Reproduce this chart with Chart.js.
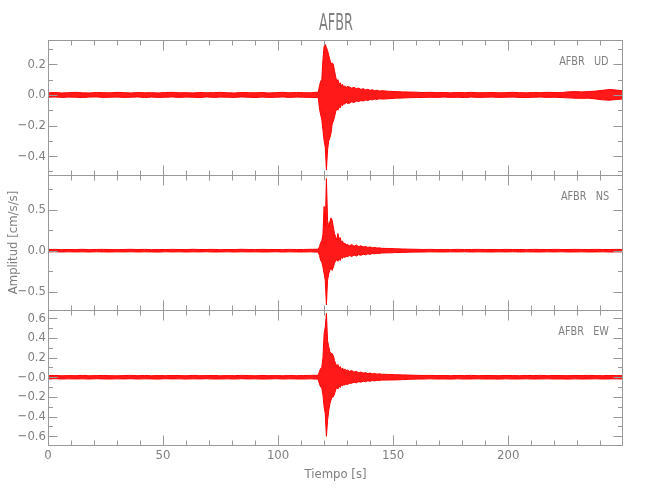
<!DOCTYPE html>
<html>
<head>
<meta charset="utf-8">
<script src="https://cdn.jsdelivr.net/npm/chart.js@4.4.1/dist/chart.umd.min.js"></script>
<style>
  html, body { margin: 0; padding: 0; background: #fff; }
  #caja { position: relative; width: 650px; height: 500px; }
  #grafico { position: absolute; left: 0; top: 0; }
  .txt { position: absolute; color: #808080; white-space: pre;
         font-family: 'Liberation Sans Narrow', 'DejaVu Sans Condensed', sans-serif; }
  #titulo { left: 236px; width: 200px; top: 8px; text-align: center; font-size: 23px; line-height: 28px;
            transform: scaleX(0.62); }
  .panel { right: 41px; text-align: right; font-size: 13px; line-height: 14px;
           transform: scaleX(0.83); transform-origin: right center; }
</style>
</head>
<body>
<div id="caja">
  <canvas id="grafico" width="650" height="500"></canvas>
  <div id="titulo" class="txt">AFBR</div>
  <div class="txt panel" style="top:54px">AFBR   UD</div>
  <div class="txt panel" style="top:189px">AFBR   NS</div>
  <div class="txt panel" style="top:324px">AFBR   EW</div>
</div>
<script>
// Tiempo de cada muestra de la envolvente (s)
const tiempo = [
  0, 3, 6, 9, 12, 15, 18, 21, 24, 27, 30, 33, 36, 39, 42, 45, 48, 51, 54, 57,
  60, 63, 66, 69, 72, 75, 78, 81, 84, 87, 90, 93, 96, 99, 102, 105, 108, 111, 114, 117,
  117.5, 118, 118.5, 119, 119.5, 120, 120.5, 121, 121.5, 122, 122.5, 123, 123.5,
  124, 124.5, 125, 125.5, 126, 126.5, 127, 127.5, 128, 128.5, 129, 129.5, 130,
  131, 132, 133, 134, 135, 136, 137, 138, 139, 140, 141, 142, 143, 144, 145,
  148, 151, 154, 157, 160, 163, 166, 169, 172, 175, 178, 181, 184, 187, 190, 193, 196,
  199, 202, 205, 208, 211, 214, 217, 220, 223, 226, 229, 232, 235, 238, 241, 244, 247, 250
];

// Componente UD: envolvente superior / inferior (cm/s/s)
const udSup = [
  0.014, 0.016, 0.013, 0.015, 0.017, 0.014, 0.013, 0.016, 0.015, 0.014, 0.017, 0.015, 0.013, 0.016, 0.014, 0.015, 0.013, 0.016, 0.017, 0.014,
  0.015, 0.013, 0.016, 0.014, 0.015, 0.017, 0.014, 0.013, 0.016, 0.015, 0.014, 0.016, 0.013, 0.015, 0.017, 0.014, 0.016, 0.015, 0.014, 0.018,
  0.02, 0.06, 0.09, 0.10, 0.23, 0.32, 0.33, 0.31, 0.29, 0.26, 0.23, 0.20, 0.21,
  0.20, 0.16, 0.12, 0.09, 0.10, 0.07, 0.08, 0.06, 0.07, 0.05, 0.06, 0.045, 0.055,
  0.052, 0.044, 0.05, 0.04, 0.045, 0.036, 0.041, 0.033, 0.037, 0.03, 0.034, 0.027, 0.031, 0.025, 0.028,
  0.024, 0.022, 0.02, 0.019, 0.018, 0.016, 0.017, 0.015, 0.016, 0.014, 0.016, 0.015, 0.017, 0.014, 0.015, 0.016, 0.014,
  0.015, 0.017, 0.015, 0.014, 0.016, 0.015, 0.017, 0.016, 0.015, 0.02, 0.022, 0.02, 0.022, 0.025, 0.03, 0.036, 0.032, 0.027
];
const udInf = [
  -0.015, -0.013, -0.016, -0.014, -0.015, -0.017, -0.014, -0.013, -0.016, -0.015, -0.014, -0.016, -0.015, -0.013, -0.017, -0.014, -0.016, -0.015, -0.013, -0.016,
  -0.014, -0.015, -0.017, -0.013, -0.016, -0.014, -0.015, -0.016, -0.013, -0.015, -0.017, -0.014, -0.016, -0.015, -0.013, -0.016, -0.014, -0.015, -0.016, -0.017,
  -0.02, -0.09, -0.13, -0.16, -0.23, -0.30, -0.34, -0.49, -0.36, -0.30, -0.28, -0.25, -0.19,
  -0.17, -0.145, -0.11, -0.09, -0.10, -0.075, -0.085, -0.06, -0.07, -0.055, -0.06, -0.045, -0.055,
  -0.054, -0.045, -0.049, -0.04, -0.043, -0.037, -0.04, -0.033, -0.036, -0.03, -0.032, -0.027, -0.029, -0.025, -0.027,
  -0.025, -0.021, -0.02, -0.018, -0.017, -0.016, -0.015, -0.016, -0.014, -0.016, -0.015, -0.017, -0.014, -0.016, -0.015, -0.014, -0.016,
  -0.015, -0.014, -0.016, -0.017, -0.015, -0.014, -0.016, -0.015, -0.017, -0.019, -0.021, -0.022, -0.021, -0.026, -0.032, -0.034, -0.03, -0.026
];

// Componente NS
const nsSup = [
  0.014, 0.016, 0.013, 0.015, 0.014, 0.017, 0.013, 0.015, 0.016, 0.014, 0.013, 0.015, 0.017, 0.014, 0.016, 0.013, 0.015, 0.014, 0.016, 0.015,
  0.013, 0.017, 0.014, 0.015, 0.016, 0.013, 0.015, 0.014, 0.017, 0.015, 0.013, 0.016, 0.014, 0.015, 0.013, 0.016, 0.014, 0.015, 0.017, 0.018,
  0.02, 0.05, 0.10, 0.12, 0.20, 0.54, 0.29, 0.88, 0.37, 0.29, 0.35, 0.40, 0.37,
  0.29, 0.21, 0.17, 0.13, 0.21, 0.14, 0.16, 0.10, 0.12, 0.08, 0.095, 0.065, 0.08,
  0.06, 0.075, 0.055, 0.07, 0.05, 0.06, 0.045, 0.052, 0.04, 0.046, 0.036, 0.04, 0.032, 0.035, 0.029,
  0.027, 0.024, 0.021, 0.019, 0.017, 0.015, 0.016, 0.014, 0.015, 0.013, 0.016, 0.014, 0.015, 0.016, 0.014, 0.015, 0.013,
  0.016, 0.014, 0.015, 0.013, 0.016, 0.015, 0.014, 0.016, 0.015, 0.014, 0.016, 0.015, 0.014, 0.016, 0.015, 0.014, 0.016, 0.015
];
const nsInf = [
  -0.015, -0.013, -0.016, -0.014, -0.015, -0.014, -0.016, -0.013, -0.015, -0.016, -0.014, -0.015, -0.013, -0.016, -0.014, -0.015, -0.017, -0.013, -0.015, -0.014,
  -0.016, -0.014, -0.015, -0.013, -0.016, -0.015, -0.014, -0.016, -0.013, -0.015, -0.014, -0.016, -0.015, -0.013, -0.016, -0.014, -0.015, -0.016, -0.014, -0.017,
  -0.02, -0.06, -0.12, -0.14, -0.20, -0.28, -0.36, -0.66, -0.36, -0.28, -0.24, -0.20, -0.24,
  -0.20, -0.15, -0.13, -0.10, -0.13, -0.09, -0.12, -0.08, -0.095, -0.07, -0.085, -0.065, -0.075,
  -0.06, -0.07, -0.052, -0.065, -0.048, -0.056, -0.043, -0.05, -0.038, -0.044, -0.034, -0.038, -0.031, -0.034, -0.028,
  -0.026, -0.023, -0.021, -0.018, -0.017, -0.016, -0.014, -0.015, -0.016, -0.014, -0.015, -0.013, -0.016, -0.014, -0.015, -0.016, -0.014,
  -0.015, -0.013, -0.016, -0.014, -0.015, -0.016, -0.014, -0.015, -0.013, -0.016, -0.015, -0.014, -0.016, -0.015, -0.014, -0.016, -0.015, -0.014
];

// Componente EW
const ewSup = [
  0.016, 0.018, 0.015, 0.017, 0.016, 0.019, 0.015, 0.017, 0.018, 0.016, 0.015, 0.017, 0.019, 0.016, 0.018, 0.015, 0.017, 0.016, 0.018, 0.017,
  0.015, 0.019, 0.016, 0.017, 0.018, 0.015, 0.017, 0.016, 0.019, 0.017, 0.015, 0.018, 0.016, 0.017, 0.015, 0.018, 0.016, 0.017, 0.019, 0.02,
  0.025, 0.06, 0.09, 0.10, 0.20, 0.44, 0.51, 0.65, 0.37, 0.31, 0.26, 0.24, 0.24,
  0.22, 0.17, 0.14, 0.11, 0.13, 0.09, 0.11, 0.08, 0.095, 0.07, 0.085, 0.065, 0.075,
  0.06, 0.068, 0.052, 0.06, 0.046, 0.053, 0.042, 0.047, 0.037, 0.043, 0.034, 0.039, 0.031, 0.036, 0.03,
  0.029, 0.026, 0.024, 0.022, 0.02, 0.018, 0.019, 0.017, 0.018, 0.016, 0.018, 0.017, 0.019, 0.016, 0.018, 0.017, 0.016,
  0.018, 0.017, 0.016, 0.018, 0.017, 0.019, 0.016, 0.018, 0.017, 0.016, 0.018, 0.017, 0.019, 0.017, 0.016, 0.018, 0.017, 0.016
];
const ewInf = [
  -0.017, -0.015, -0.018, -0.016, -0.017, -0.016, -0.018, -0.015, -0.017, -0.018, -0.016, -0.017, -0.015, -0.018, -0.016, -0.017, -0.019, -0.015, -0.017, -0.016,
  -0.018, -0.016, -0.017, -0.015, -0.018, -0.017, -0.016, -0.018, -0.015, -0.017, -0.016, -0.018, -0.017, -0.015, -0.018, -0.016, -0.017, -0.018, -0.016, -0.019,
  -0.025, -0.07, -0.10, -0.11, -0.18, -0.30, -0.37, -0.60, -0.44, -0.34, -0.27, -0.23, -0.20,
  -0.20, -0.17, -0.13, -0.10, -0.12, -0.085, -0.105, -0.075, -0.09, -0.07, -0.08, -0.065, -0.075,
  -0.063, -0.06, -0.05, -0.057, -0.045, -0.05, -0.04, -0.046, -0.036, -0.041, -0.033, -0.037, -0.03, -0.034, -0.029,
  -0.028, -0.027, -0.024, -0.021, -0.019, -0.018, -0.016, -0.018, -0.017, -0.019, -0.016, -0.018, -0.017, -0.016, -0.018, -0.017, -0.019,
  -0.016, -0.018, -0.017, -0.016, -0.018, -0.017, -0.016, -0.018, -0.017, -0.019, -0.016, -0.018, -0.017, -0.016, -0.018, -0.017, -0.016, -0.018
];

// Ejes: marcas mayores, etiquetas y marcas menores
const xMayores = [0, 50, 100, 150, 200];
const xEtiquetas = ['0', '50', '100', '150', '200'];
const xMenores = [10, 20, 30, 40, 60, 70, 80, 90, 110, 120, 130, 140, 160, 170, 180, 190, 210, 220, 230, 240];

const udMayores = [-0.4, -0.2, 0, 0.2];
const udEtiquetas = ['\u22120.4', '\u22120.2', '0.0', '0.2'];
const udMenores = [-0.5, -0.3, -0.1, 0.1, 0.3];

const nsMayores = [-0.5, 0, 0.5];
const nsEtiquetas = ['\u22120.5', '0.0', '0.5'];
const nsMenores = [-0.25, 0.25, 0.75];

const ewMayores = [-0.6, -0.4, -0.2, 0, 0.2, 0.4, 0.6];
const ewEtiquetas = ['\u22120.6', '\u22120.4', '\u22120.2', '\u22120.0', '0.2', '0.4', '0.6'];
const ewMenores = [-0.5, -0.3, -0.1, 0.1, 0.3, 0.5];

const gris = '#808080';
const grisEje = '#999999';
const rojo = '#ff0000';
const fuente = "'Liberation Sans Narrow', 'DejaVu Sans Condensed', sans-serif";

const paneles = [
  { id: 'yUD', min: -0.523, max: 0.359, mayores: udMayores, etiquetas: udEtiquetas, menores: udMenores, sup: udSup, inf: udInf },
  { id: 'yNS', min: -0.723, max: 0.923, mayores: nsMayores, etiquetas: nsEtiquetas, menores: nsMenores, sup: nsSup, inf: nsInf },
  { id: 'yEW', min: -0.688, max: 0.683, mayores: ewMayores, etiquetas: ewEtiquetas, menores: ewMenores, sup: ewSup, inf: ewInf }
];

function puntos(valores) {
  return tiempo.map((t, i) => ({ x: t, y: valores[i] }));
}

const datasets = [];
paneles.forEach(p => {
  datasets.push({
    data: puntos(p.sup), yAxisID: p.id, borderColor: rojo, borderWidth: 1,
    backgroundColor: 'rgba(255,0,0,0.9)', fill: '+1', pointRadius: 0, tension: 0,
    clip: { left: 0, right: 0, top: 8, bottom: 8 }
  });
  datasets.push({
    data: puntos(p.inf), yAxisID: p.id, borderColor: rojo, borderWidth: 1,
    fill: false, pointRadius: 0, tension: 0,
    clip: { left: 0, right: 0, top: 8, bottom: 8 }
  });
});

const scales = {
  x: {
    type: 'linear', position: 'bottom', min: 0, max: 249.9,
    afterBuildTicks: s => { s.ticks = xMayores.map(v => ({ value: v })); },
    afterFit: s => { s.height = 55; },
    grid: { display: false, drawTicks: false },
    border: { display: false },
    ticks: { autoSkip: false, maxRotation: 0, color: gris, padding: 3,
             font: { family: fuente, size: 13 }, callback: (v, i) => xEtiquetas[i] },
    title: { display: true, text: 'Tiempo [s]', color: gris,
             font: { family: fuente, size: 13 }, padding: { top: 4, bottom: 18 } }
  }
};
paneles.forEach((p, k) => {
  scales[p.id] = {
    type: 'linear', position: 'left', stack: 'paneles', stackWeight: 1, weight: 3 - k,
    min: p.min, max: p.max,
    afterBuildTicks: s => { s.ticks = p.mayores.map(v => ({ value: v })); },
    afterFit: s => { s.width = 48; },
    grid: { display: false, drawTicks: false },
    border: { display: false },
    ticks: { autoSkip: false, color: gris, padding: 2,
             font: { family: fuente, size: 13 }, callback: (v, i) => p.etiquetas[i] },
    title: { display: p.id === 'yNS', text: 'Amplitud [cm/s/s]', color: gris,
             font: { family: fuente, size: 13 }, padding: { top: 6, bottom: 0 } }
  };
});

// Marco de cada panel con marcas hacia dentro en los cuatro lados
const marcoPlugin = {
  id: 'marco',
  afterDatasetsDraw(chart) {
    const { ctx, chartArea: a, scales: sc } = chart;
    const xs = sc.x;
    const linea = (x1, y1, x2, y2) => { ctx.beginPath(); ctx.moveTo(x1, y1); ctx.lineTo(x2, y2); ctx.stroke(); };
    ctx.save();
    ctx.strokeStyle = grisEje;
    ctx.lineWidth = 1;
    const izq = Math.round(a.left) + 0.5;
    const der = Math.round(a.right) - 0.5;
    paneles.forEach(p => {
      const ys = sc[p.id];
      const arr = Math.round(ys.top) + 0.5;
      const abj = Math.round(ys.bottom) + 0.5;
      ctx.strokeRect(izq, arr, der - izq, abj - arr);
      xMayores.forEach(v => {
        const px = Math.round(xs.getPixelForValue(v)) + 0.5;
        linea(px, arr, px, arr + 10);
        linea(px, abj, px, abj - 10);
      });
      xMenores.forEach(v => {
        const px = Math.round(xs.getPixelForValue(v)) + 0.5;
        linea(px, arr, px, arr + 5);
        linea(px, abj, px, abj - 5);
      });
      p.mayores.forEach(v => {
        const py = Math.round(ys.getPixelForValue(v)) + 0.5;
        linea(izq, py, izq + 9, py);
        linea(der, py, der - 9, py);
      });
      p.menores.forEach(v => {
        const py = Math.round(ys.getPixelForValue(v)) + 0.5;
        linea(izq, py, izq + 4.5, py);
        linea(der, py, der - 4.5, py);
      });
    });
    ctx.restore();
  }
};

new Chart(document.getElementById('grafico'), {
  type: 'line',
  data: { datasets },
  options: {
    responsive: false,
    animation: false,
    devicePixelRatio: 1,
    layout: { padding: { top: 40, right: 27, left: 0, bottom: 0 } },
    plugins: { legend: { display: false }, tooltip: { enabled: false } },
    scales
  },
  plugins: [marcoPlugin]
});
</script>
</body>
</html>
